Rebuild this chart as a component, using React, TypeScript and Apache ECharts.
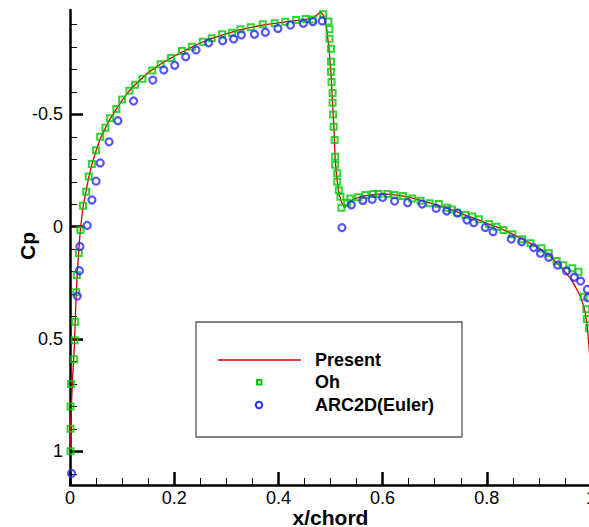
import React, { useEffect, useRef } from "react";
import * as echarts from "echarts";

// Present (line)
const presentPoints: number[][] = [
  [0, 1.0], [0.001, 0.9], [0.003, 0.78], [0.005, 0.67], [0.008, 0.55], [0.01, 0.42],
  [0.012, 0.3], [0.014, 0.2], [0.017, 0.1], [0.02, 0.01], [0.025, -0.09], [0.031, -0.16],
  [0.036, -0.22], [0.042, -0.278], [0.05, -0.338], [0.058, -0.392], [0.068, -0.44],
  [0.077, -0.48], [0.089, -0.525], [0.1, -0.563], [0.112, -0.6], [0.125, -0.632],
  [0.15, -0.686], [0.175, -0.726], [0.2, -0.759], [0.225, -0.79], [0.25, -0.818],
  [0.275, -0.841], [0.3, -0.859], [0.325, -0.876], [0.35, -0.889], [0.375, -0.9],
  [0.4, -0.908], [0.425, -0.915], [0.45, -0.922], [0.465, -0.928], [0.475, -0.945],
  [0.481, -0.957], [0.487, -0.94], [0.492, -0.89], [0.497, -0.8], [0.501, -0.68],
  [0.504, -0.55], [0.507, -0.42], [0.509, -0.3], [0.512, -0.22], [0.516, -0.15],
  [0.521, -0.11], [0.527, -0.085], [0.534, -0.105], [0.543, -0.122], [0.56, -0.135],
  [0.58, -0.143], [0.6, -0.146], [0.62, -0.143], [0.64, -0.136], [0.66, -0.126],
  [0.68, -0.113], [0.7, -0.1], [0.72, -0.086], [0.74, -0.068], [0.76, -0.051],
  [0.78, -0.035], [0.8, -0.015], [0.82, 0.002], [0.84, 0.022], [0.86, 0.045],
  [0.88, 0.07], [0.9, 0.095], [0.92, 0.127], [0.936, 0.165], [0.95, 0.2], [0.96, 0.228],
  [0.97, 0.267], [0.98, 0.31], [0.988, 0.37], [0.993, 0.445], [0.996, 0.53], [0.999, 0.62],
];

// Oh (green squares)
const ohPoints: number[][] = [
  [0.001, 1.0], [0.001, 0.9], [0.001, 0.8], [0.002, 0.7], [0.008, 0.59], [0.009, 0.506],
  [0.01, 0.423], [0.012, 0.292], [0.013, 0.215], [0.017, 0.117], [0.02, 0.015],
  [0.025, -0.093], [0.031, -0.156], [0.036, -0.224], [0.042, -0.279], [0.05, -0.34],
  [0.058, -0.401], [0.068, -0.441], [0.077, -0.483], [0.089, -0.524], [0.1, -0.567],
  [0.114, -0.606], [0.125, -0.632], [0.139, -0.659], [0.158, -0.696], [0.174, -0.724],
  [0.194, -0.751], [0.215, -0.782], [0.234, -0.801], [0.255, -0.824], [0.272, -0.839],
  [0.292, -0.857], [0.311, -0.864], [0.327, -0.879], [0.347, -0.888], [0.37, -0.901],
  [0.393, -0.906], [0.413, -0.913], [0.434, -0.92], [0.452, -0.925], [0.466, -0.923],
  [0.486, -0.946], [0.496, -0.914], [0.498, -0.879], [0.498, -0.837], [0.501, -0.793],
  [0.501, -0.735], [0.501, -0.69], [0.502, -0.644], [0.504, -0.595], [0.504, -0.552],
  [0.505, -0.5], [0.506, -0.445], [0.508, -0.386], [0.509, -0.312], [0.509, -0.276],
  [0.513, -0.238], [0.513, -0.2], [0.516, -0.162], [0.519, -0.134], [0.521, -0.085],
  [0.532, -0.107], [0.538, -0.126], [0.553, -0.131], [0.567, -0.141], [0.582, -0.146],
  [0.592, -0.146], [0.609, -0.146], [0.623, -0.141], [0.639, -0.137], [0.657, -0.126],
  [0.673, -0.116], [0.69, -0.104], [0.708, -0.101], [0.724, -0.085], [0.733, -0.077],
  [0.743, -0.062], [0.759, -0.052], [0.772, -0.045], [0.785, -0.033], [0.804, -0.012],
  [0.819, 0.0], [0.832, 0.015], [0.849, 0.034], [0.868, 0.056], [0.884, 0.074],
  [0.905, 0.096], [0.919, 0.118], [0.934, 0.153], [0.947, 0.171], [0.964, 0.185],
  [0.976, 0.2], [0.986, 0.312], [0.991, 0.368], [0.992, 0.411], [0.996, 0.452],
];

// ARC2D(Euler) (blue circles)
const arcPoints: number[][] = [
  [0.003, 1.098], [0.014, 0.309], [0.018, 0.196], [0.019, 0.088], [0.033, -0.006],
  [0.042, -0.119], [0.05, -0.203], [0.058, -0.284], [0.075, -0.378], [0.092, -0.472],
  [0.122, -0.56], [0.159, -0.653], [0.18, -0.698], [0.201, -0.719], [0.222, -0.757],
  [0.242, -0.787], [0.266, -0.819], [0.293, -0.828], [0.314, -0.836], [0.329, -0.854],
  [0.354, -0.857], [0.375, -0.866], [0.399, -0.883], [0.423, -0.898], [0.448, -0.906],
  [0.466, -0.913], [0.484, -0.916], [0.522, 0.004], [0.54, -0.097], [0.562, -0.117],
  [0.58, -0.122], [0.6, -0.131], [0.623, -0.114], [0.648, -0.107], [0.676, -0.101],
  [0.703, -0.082], [0.723, -0.07], [0.744, -0.061], [0.762, -0.03], [0.775, -0.018],
  [0.797, 0.003], [0.812, 0.022], [0.847, 0.055], [0.867, 0.067], [0.89, 0.093],
  [0.903, 0.118], [0.919, 0.136], [0.936, 0.171], [0.953, 0.197], [0.968, 0.225],
  [0.98, 0.242], [0.993, 0.279], [0.994, 0.316],
];

const yMajorTicks = [-0.5, 0, 0.5, 1];
const yMinorTicks = [-0.9, -0.8, -0.7, -0.6, -0.4, -0.3, -0.2, -0.1, 0.1, 0.2, 0.3, 0.4, 0.6, 0.7, 0.8, 0.9, 1.1];
const legendNames = ["Present", "Oh", "ARC2D(Euler)"];
const xTitle = "x/chord";
const yTitle = "Cp";

const RED = "#d40000";
const GREEN = "#00c800";
const BLUE = "#2a2aff";
const FONT = "'Liberation Sans', Arial, sans-serif";

export default function App() {
  const ref = useRef<HTMLDivElement>(null);
  useEffect(() => {
    if (!ref.current) return;
    const chart = echarts.init(ref.current, null, { renderer: "svg" });
    const yBase = {
      type: "value",
      min: -0.965,
      max: 1.15,
      inverse: true,
      position: "left",
      splitLine: { show: false },
    };
    chart.setOption({
      animation: false,
      backgroundColor: "#ffffff",
      grid: {
        left: 70,
        right: -2,
        top: 10,
        bottom: 42,
        containLabel: false,
        outerBoundsMode: "none",
      },
      xAxis: {
        type: "value",
        min: 0,
        max: 1,
        interval: 0.2,
        axisLine: { show: true, onZero: false, lineStyle: { color: "#000", width: 2.5 } },
        axisTick: { show: true, inside: true, length: 13, lineStyle: { color: "#000", width: 2.5 } },
        minorTick: { show: true, splitNumber: 4, length: 7, lineStyle: { color: "#000", width: 1 } },
        axisLabel: { fontFamily: FONT, fontSize: 18, color: "#000", margin: 4, showMaxLabel: true },
        splitLine: { show: false },
        minorSplitLine: { show: false },
      },
      yAxis: [
        {
          ...yBase,
          axisLine: { show: true, onZero: false, lineStyle: { color: "#000", width: 2.5 } },
          axisTick: {
            show: true,
            inside: true,
            length: 13,
            customValues: yMajorTicks,
            lineStyle: { color: "#000", width: 2.5 },
          },
          axisLabel: {
            fontFamily: FONT,
            fontSize: 18,
            color: "#000",
            margin: 7,
            customValues: yMajorTicks,
            formatter: (v: number) => String(v),
          },
        },
        {
          ...yBase,
          axisLine: { show: false },
          axisTick: {
            show: true,
            inside: true,
            length: 7,
            customValues: yMinorTicks,
            lineStyle: { color: "#000", width: 1 },
          },
          axisLabel: { show: false },
        },
      ],
      series: [
        {
          name: legendNames[0],
          type: "line",
          data: presentPoints,
          showSymbol: false,
          symbol: "none",
          lineStyle: { color: RED, width: 1.3 },
          z: 2,
        },
        {
          name: legendNames[1],
          type: "scatter",
          data: ohPoints,
          symbol: "rect",
          symbolSize: 6,
          itemStyle: { color: "rgba(0,0,0,0)", borderColor: GREEN, borderWidth: 2 },
          z: 3,
        },
        {
          name: legendNames[2],
          type: "scatter",
          data: arcPoints,
          symbol: "circle",
          symbolSize: 7,
          itemStyle: { color: "rgba(0,0,0,0)", borderColor: BLUE, borderWidth: 2.2 },
          z: 4,
        },
      ],
      graphic: [
        {
          type: "text",
          x: 330.5,
          y: 517,
          style: {
            text: xTitle,
            font: `bold 21px ${FONT}`,
            fill: "#000",
            textAlign: "center",
            textVerticalAlign: "middle",
          },
          z: 11,
        },
        {
          type: "text",
          x: 27.5,
          y: 246,
          rotation: Math.PI / 2,
          style: {
            text: yTitle,
            font: `bold 21px ${FONT}`,
            fill: "#000",
            textAlign: "center",
            textVerticalAlign: "middle",
          },
          z: 11,
        },
        {
          type: "rect",
          shape: { x: 196, y: 322, width: 266, height: 115 },
          style: { fill: "#fff", stroke: "#555", lineWidth: 1.3 },
          z: 10,
        },
        {
          type: "line",
          shape: { x1: 218, y1: 360, x2: 301, y2: 360 },
          style: { stroke: RED, lineWidth: 1.3 },
          z: 11,
        },
        {
          type: "rect",
          shape: { x: 257, y: 380, width: 4.5, height: 4.5 },
          style: { fill: "none", stroke: GREEN, lineWidth: 2 },
          z: 11,
        },
        {
          type: "circle",
          shape: { cx: 259, cy: 405, r: 3.2 },
          style: { fill: "none", stroke: BLUE, lineWidth: 2 },
          z: 11,
        },
        {
          type: "text",
          x: 315,
          y: 360,
          style: { text: legendNames[0], font: `bold 18px ${FONT}`, fill: "#000", textVerticalAlign: "middle" },
          z: 11,
        },
        {
          type: "text",
          x: 315,
          y: 382,
          style: { text: legendNames[1], font: `bold 18px ${FONT}`, fill: "#000", textVerticalAlign: "middle" },
          z: 11,
        },
        {
          type: "text",
          x: 315,
          y: 405,
          style: { text: legendNames[2], font: `bold 18px ${FONT}`, fill: "#000", textVerticalAlign: "middle" },
          z: 11,
        },
      ],
    });
    return () => chart.dispose();
  }, []);
  return (
    <div
      ref={ref}
      style={{ position: "fixed", left: 0, top: 0, width: 589, height: 527, background: "#fff" }}
    />
  );
}
